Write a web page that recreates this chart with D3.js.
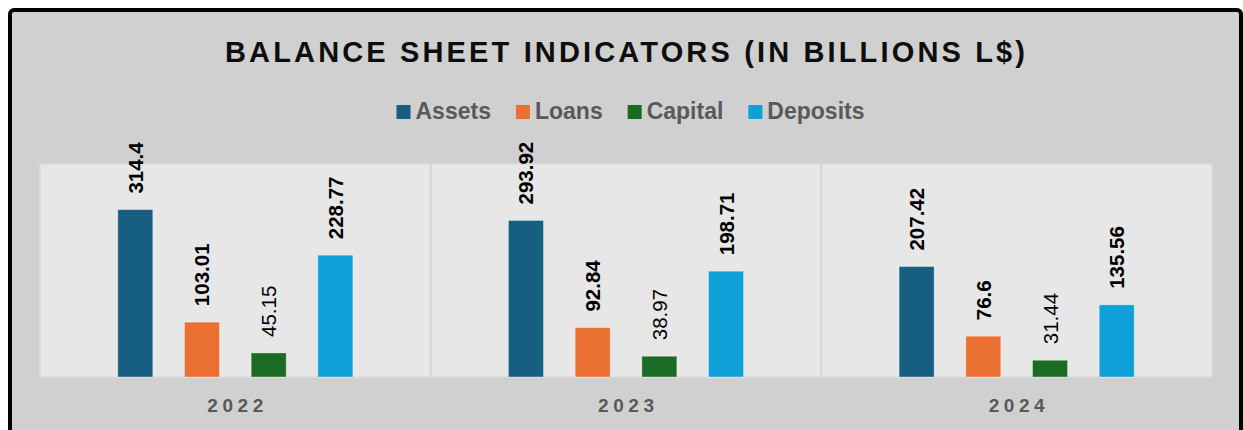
<!DOCTYPE html>
<html>
<head>
<meta charset="utf-8">
<script src="https://cdn.jsdelivr.net/npm/d3@7"></script>
<style>
  html, body { margin: 0; padding: 0; background: #ffffff; }
  svg { display: block; }
  text { font-family: "Liberation Sans", Arial, sans-serif; }
</style>
</head>
<body>
<svg id="chart" width="1243" height="430"></svg>
<script>
const years = ["2022", "2023", "2024"];
const seriesNames = ["Assets", "Loans", "Capital", "Deposits"];
const assets = [314.4, 293.92, 207.42];
const loans = [103.01, 92.84, 76.6];
const capital = [45.15, 38.97, 31.44];
const deposits = [228.77, 198.71, 135.56];
const colors = ["#165f80", "#eb7132", "#1b6b24", "#10a0d8"];
const boldLabel = [true, true, false, true];
const titleText = "BALANCE SHEET INDICATORS (IN BILLIONS L$)";

const seriesValues = [assets, loans, capital, deposits];

const svg = d3.select("#chart");

// outer frame
svg.append("rect")
  .attr("x", 10).attr("y", 10)
  .attr("width", 1231).attr("height", 460)
  .attr("rx", 4)
  .attr("fill", "#d0d0d0")
  .attr("stroke", "#000").attr("stroke-width", 4);

// title
svg.append("text")
  .attr("x", 225).attr("y", 62)
  .attr("textLength", 800).attr("lengthAdjust", "spacing")
  .attr("font-size", 29).attr("font-weight", "bold")
  .attr("fill", "#0d0d0d")
  .text(titleText);

// plot area
const plot = { left: 40, right: 1212, top: 164, bottom: 377 };

const x0 = d3.scaleBand().domain(years).range([plot.left, plot.right]).padding(0);
const x1 = d3.scaleBand().domain(seriesNames).range([0, x0.bandwidth()])
  .paddingInner(0.475).paddingOuter(1.166);
const y = d3.scaleLinear().domain([0, 400]).range([plot.bottom, plot.top]);

svg.append("rect")
  .attr("x", plot.left).attr("y", plot.top)
  .attr("width", plot.right - plot.left).attr("height", plot.bottom - plot.top)
  .attr("fill", "#e7e7e7")
  .attr("stroke", "#dcdcdc").attr("stroke-width", 1.5);

// group separators
svg.append("g").selectAll("line")
  .data(years.slice(1))
  .join("line")
  .attr("x1", d => x0(d)).attr("x2", d => x0(d))
  .attr("y1", plot.top).attr("y2", plot.bottom)
  .attr("stroke", "#d5d5d5").attr("stroke-width", 2);

// bars
const data = [];
years.forEach((yr, i) => {
  seriesNames.forEach((s, j) => {
    data.push({ year: yr, series: s, value: seriesValues[j][i], color: colors[j], bold: boldLabel[j] });
  });
});

svg.append("g").selectAll("rect")
  .data(data)
  .join("rect")
  .attr("x", d => x0(d.year) + x1(d.series))
  .attr("y", d => y(d.value))
  .attr("width", x1.bandwidth())
  .attr("height", d => y(0) - y(d.value))
  .attr("fill", d => d.color)
  .attr("stroke", "rgba(255,255,255,0.35)").attr("stroke-width", 1);

// value labels
svg.append("g").selectAll("text")
  .data(data)
  .join("text")
  .attr("transform", d => {
    const cx = x0(d.year) + x1(d.series) + x1.bandwidth() / 2;
    const cy = y(d.value) - 16;
    return `translate(${cx + 7.5},${cy}) rotate(-90)`;
  })
  .attr("font-size", 20.5)
  .attr("font-weight", d => d.bold ? "bold" : "normal")
  .attr("fill", "#000")
  .text(d => d.value);

// x axis labels
svg.append("g").selectAll("text")
  .data(years)
  .join("text")
  .attr("x", d => x0(d) + x0.bandwidth() / 2 - 28)
  .attr("y", 412)
  .attr("textLength", 56).attr("lengthAdjust", "spacing")
  .attr("font-size", 19).attr("font-weight", "bold")
  .attr("fill", "#595959")
  .text(d => d);

// legend
const legend = svg.append("g");
const items = legend.selectAll("g")
  .data(seriesNames)
  .join("g");
items.append("rect")
  .attr("width", 14).attr("height", 14)
  .attr("y", 105)
  .attr("fill", (d, i) => colors[i]);
items.append("text")
  .attr("x", 19).attr("y", 119)
  .attr("font-size", 23).attr("font-weight", "bold")
  .attr("fill", "#595959")
  .text(d => d);
let xpos = 0;
const offsets = [];
items.each(function() {
  const w = d3.select(this).select("text").node().getComputedTextLength();
  offsets.push(xpos);
  xpos += 19 + w + 25;
});
const totalW = xpos - 25;
const startX = 630.5 - totalW / 2;
items.attr("transform", (d, i) => `translate(${startX + offsets[i]},0)`);
</script>
</body>
</html>
